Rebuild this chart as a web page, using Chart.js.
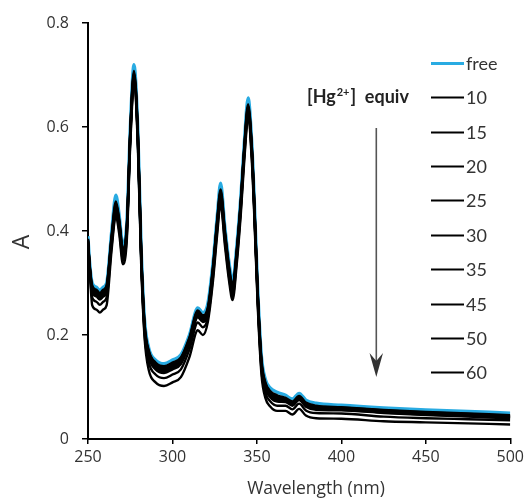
<!DOCTYPE html>
<html><head><meta charset="utf-8">
<script src="https://cdn.jsdelivr.net/npm/chart.js@4"></script>
<style>html,body{margin:0;padding:0;background:#fff}#c{display:block}</style>
</head><body>
<canvas id="c" width="528" height="499"></canvas>
<script>
const wavelengths = [250,251,252.5,255,257,259,261,264,266.5,268.5,270.7,273,275,277.2,279.5,281.5,283.5,286,290,295,300,305,310,315,318,321,324,326.5,328.5,331,333.5,335.6,338,340.5,342.5,344.8,347,348.5,350.5,352.7,355,358,362,367,371,375,379,385,400,425,450,475,500];

const seriesLabels = ['free','10','15','20','25','30','35','45','50','60'];
const seriesColors = ['#29abe2','#000','#000','#000','#000','#000','#000','#000','#000','#000'];

const sFree = [.39,.34,.30,.292,.286,.292,.30,.40,.469,.43,.372,.42,.60,.72,.60,.37,.23,.175,.152,.145,.152,.162,.20,.252,.243,.262,.34,.43,.492,.41,.34,.303,.37,.47,.57,.656,.57,.46,.29,.16,.115,.098,.09,.084,.077,.088,.075,.069,.065,.06,.056,.053,.05];
const s10 = [.385,.335,.295,.287,.281,.287,.295,.392,.457,.422,.364,.412,.592,.708,.592,.362,.222,.170,.147,.140,.147,.157,.195,.247,.238,.254,.332,.422,.480,.402,.332,.295,.362,.462,.562,.644,.562,.452,.282,.152,.109,.092,.084,.079,.072,.083,.070,.064,.061,.056,.052,.049,.046];
const s15 = [.383,.333,.293,.285,.279,.285,.293,.389,.453,.419,.361,.409,.589,.704,.589,.359,.219,.168,.145,.138,.145,.155,.193,.245,.236,.251,.329,.419,.476,.399,.329,.292,.359,.459,.559,.640,.559,.449,.279,.149,.107,.090,.082,.077,.070,.081,.068,.062,.060,.055,.051,.048,.045];
const s20 = [.382,.332,.291,.283,.277,.283,.291,.387,.450,.417,.359,.407,.587,.701,.587,.357,.217,.166,.143,.136,.143,.153,.191,.243,.234,.249,.327,.417,.473,.397,.327,.290,.357,.457,.557,.637,.557,.447,.277,.147,.105,.088,.080,.076,.069,.080,.067,.061,.059,.054,.050,.047,.044];
const s25 = [.381,.331,.289,.281,.275,.281,.289,.385,.447,.415,.357,.405,.585,.698,.585,.355,.215,.164,.141,.134,.141,.151,.189,.241,.232,.247,.325,.415,.470,.395,.325,.288,.355,.455,.555,.634,.555,.445,.275,.145,.103,.086,.078,.075,.068,.079,.066,.060,.058,.053,.049,.046,.043];
const s30 = [.380,.330,.287,.279,.273,.279,.287,.383,.444,.413,.355,.403,.583,.695,.583,.353,.213,.162,.139,.132,.139,.149,.187,.239,.230,.245,.323,.413,.467,.393,.323,.286,.353,.453,.553,.631,.553,.443,.273,.143,.101,.084,.076,.074,.067,.078,.065,.059,.057,.052,.048,.045,.042];
const s35 = [.379,.329,.285,.277,.271,.277,.285,.381,.441,.411,.353,.401,.581,.692,.581,.351,.211,.160,.137,.130,.137,.147,.185,.237,.228,.243,.321,.411,.464,.391,.321,.284,.351,.451,.551,.628,.551,.441,.271,.141,.099,.082,.074,.073,.066,.077,.064,.058,.056,.051,.047,.044,.041];
const s45 = [.378,.328,.282,.274,.268,.274,.282,.378,.438,.408,.350,.398,.578,.689,.578,.348,.208,.157,.134,.127,.134,.144,.182,.234,.225,.240,.318,.408,.461,.388,.318,.281,.348,.448,.548,.625,.548,.438,.268,.138,.097,.080,.072,.071,.064,.075,.062,.056,.055,.050,.046,.043,.040];
const s50 = [.376,.326,.272,.264,.258,.264,.272,.372,.435,.402,.344,.392,.572,.686,.572,.342,.202,.147,.124,.117,.124,.134,.172,.224,.215,.234,.312,.402,.458,.382,.312,.275,.342,.442,.542,.622,.542,.432,.262,.132,.089,.072,.064,.064,.057,.068,.055,.050,.049,.043,.040,.038,.036];
const s60 = [.374,.324,.257,.249,.243,.249,.257,.364,.429,.394,.336,.384,.564,.680,.564,.334,.194,.132,.109,.102,.109,.119,.157,.209,.200,.226,.304,.394,.452,.374,.304,.267,.334,.434,.534,.616,.534,.424,.254,.124,.079,.062,.054,.054,.047,.058,.045,.040,.039,.034,.032,.030,.028];

const seriesValues = [sFree,s10,s15,s20,s25,s30,s35,s45,s50,s60];
const xTicks = [250,300,350,400,450,500];
const yTicks = [0,0.2,0.4,0.6,0.8];

const datasets = seriesValues.map((vals,k)=>({
  label: seriesLabels[k],
  data: wavelengths.map((w,i)=>({x:w,y:vals[i]})),
  borderColor: seriesColors[k],
  backgroundColor: seriesColors[k],
  borderWidth: k===0 ? 3.2 : 2.4,
  pointRadius: 0,
  fill: false,
  cubicInterpolationMode: 'monotone',
  order: k===0 ? 1 : 0
}));

const overlay = {
  id: 'overlay',
  afterDraw(chart){
    const ctx = chart.ctx;
    ctx.save();
    // legend
    chart.data.datasets.forEach((ds,i)=>{
      const y = Math.round(62.7 + i*34.4) + 0.5;
      ctx.strokeStyle = ds.borderColor; ctx.lineWidth = ds.label === 'free' ? 3 : 2.2;
      ctx.beginPath(); ctx.moveTo(431,y); ctx.lineTo(464,y); ctx.stroke();
      ctx.fillStyle = '#333'; ctx.font = '18px Lato'; ctx.textBaseline = 'middle'; ctx.textAlign = 'left';
      ctx.fillText(ds.label, 466, y+1);
    });
    // [Hg2+] equiv
    ctx.fillStyle = '#222'; ctx.textBaseline = 'alphabetic'; ctx.textAlign = 'left';
    let x = 307, yb = 103;
    ctx.font = 'bold 18px Lato'; ctx.fillText('[Hg', x, yb); x += ctx.measureText('[Hg').width + 1;
    ctx.font = 'bold 11px Lato'; ctx.fillText('2+', x, yb-7); x += ctx.measureText('2+').width + 1;
    ctx.font = 'bold 18px Lato'; ctx.fillText(']  equiv', x, yb);
    // arrow
    ctx.strokeStyle = '#555'; ctx.lineWidth = 1.6;
    ctx.beginPath(); ctx.moveTo(376.3,128); ctx.lineTo(376.3,362); ctx.stroke();
    ctx.fillStyle = '#333';
    ctx.beginPath(); ctx.moveTo(376.3,377); ctx.lineTo(369.5,353); ctx.lineTo(376.3,361); ctx.lineTo(383,353); ctx.closePath(); ctx.fill();
    // axis titles
    ctx.fillStyle = '#333'; ctx.textAlign = 'center'; ctx.textBaseline = 'middle';
    ctx.font = '17.5px "Open Sans"'; ctx.fillText('Wavelength (nm)', 316, 489);
    ctx.save(); ctx.translate(22, 242); ctx.rotate(-Math.PI/2);
    ctx.font = '23px "Open Sans"'; ctx.fillText('A', 0, 0); ctx.restore();
    ctx.restore();
  }
};

new Chart(document.getElementById('c'), {
  type: 'line',
  data: { datasets },
  options: {
    responsive: false,
    animation: false,
    layout: { padding: { top: 23, right: 17, bottom: 0, left: 0 } },
    plugins: { legend: { display: false }, tooltip: { enabled: false } },
    scales: {
      x: {
        type: 'linear', min: 250, max: 500,
        afterBuildTicks: s => { s.ticks = xTicks.map(v=>({value:v})); },
        afterFit: s => { s.height = 60; },
        grid: { drawOnChartArea: false, drawTicks: true, tickLength: 5, color: '#000', lineWidth: 1.5 },
        border: { display: true, color: '#000', width: 2 },
        ticks: { color: '#333', font: { family: 'Open Sans', size: 16 }, padding: 4, maxRotation: 0 }
      },
      y: {
        type: 'linear', min: 0, max: 0.8,
        afterBuildTicks: s => { s.ticks = yTicks.map(v=>({value:v})); },
        afterFit: s => { s.width = 88; },
        grid: { drawOnChartArea: false, drawTicks: true, tickLength: 6, color: '#000', lineWidth: 1.5 },
        border: { display: true, color: '#000', width: 2 },
        ticks: { color: '#333', font: { family: 'Open Sans', size: 16 }, padding: 13,
          callback: v => v === 0 ? '0' : v.toFixed(1) }
      }
    }
  },
  plugins: [overlay]
});
</script>
</body></html>
